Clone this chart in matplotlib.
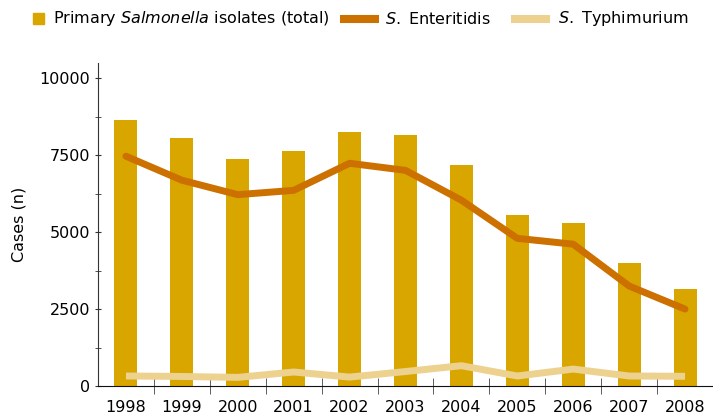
import numpy as np
import matplotlib.pyplot as plt
from matplotlib.patches import Rectangle
from matplotlib.lines import Line2D

years = ['1998', '1999', '2000', '2001', '2002', '2003', '2004', '2005', '2006', '2007', '2008']
total = [8650, 8050, 7380, 7630, 8250, 8150, 7180, 5550, 5290, 3990, 3150]
enteritidis = [7470, 6690, 6220, 6360, 7240, 7010, 6040, 4800, 4610, 3250, 2500]
typhimurium = [325, 310, 280, 455, 290, 470, 660, 325, 550, 325, 315]

c_bar = '#D9A600'
c_ent = '#CC7000'
c_typ = '#EDD18F'

plt.rcParams['font.family'] = 'DejaVu Sans'
plt.rcParams['mathtext.fontset'] = 'dejavusans'

W, H = 713, 418
fig = plt.figure(figsize=(W / 100, H / 100), dpi=100)
ax = fig.add_axes([98 / W, 1 - 386 / H, 1 - 98 / W, (386 - 63) / H])

x = np.arange(len(years))
ax.bar(x, total, width=0.41, color=c_bar, zorder=1)
ax.plot(x, enteritidis, color=c_ent, lw=5, solid_capstyle='round',
        solid_joinstyle='round', zorder=3)
ax.plot(x, typhimurium, color=c_typ, lw=5, solid_capstyle='butt',
        solid_joinstyle='round', zorder=2)

ax.set_xlim(-0.5, len(years) - 0.5)
ax.set_ylim(0, 10500)
ax.set_yticks([0, 2500, 5000, 7500, 10000])
ax.set_yticks([1250, 3750, 6250, 8750], minor=True)
ax.set_xticks(x)
ax.set_xticklabels(years)
ax.tick_params(axis='x', length=0, labelsize=11.5, pad=10)
ax.set_xticks(x[:-1] + 0.5, minor=True)
ax.tick_params(axis='x', which='minor', direction='inout', length=11.5, color='#444444')
ax.tick_params(axis='y', which='both', direction='inout', length=4.5, labelsize=11.5,
               color='#333333')
for s in ['top', 'right']:
    ax.spines[s].set_visible(False)
ax.spines['left'].set_color('#333333')
ax.spines['bottom'].set_color('#111111')
ax.set_ylabel('Cases (n)', fontsize=11.5)
ax.yaxis.set_label_coords(-0.117, 0.5)

# legend drawn by hand to match the original layout
def fx(px):
    return px / W

def fy(px):
    return 1 - px / H

ly = 19
fig.patches.append(Rectangle((fx(33), fy(24)), fx(11), 11 / H, color=c_bar,
                             transform=fig.transFigure))
fig.text(fx(53), fy(ly), 'Primary $\\it{Salmonella}$ isolates (total)',
         fontsize=11.5, va='center')
fig.lines.append(Line2D([fx(344), fx(375)], [fy(ly), fy(ly)], lw=5.8, color=c_ent,
                        transform=fig.transFigure))
fig.text(fx(385), fy(ly), '$\\it{S.}$ Enteritidis', fontsize=11.5, va='center')
fig.lines.append(Line2D([fx(515), fx(546)], [fy(ly), fy(ly)], lw=5.8, color=c_typ,
                        transform=fig.transFigure))
fig.text(fx(558), fy(ly), '$\\it{S.}$ Typhimurium', fontsize=11.5, va='center')

fig.savefig('out.png', dpi=100)
